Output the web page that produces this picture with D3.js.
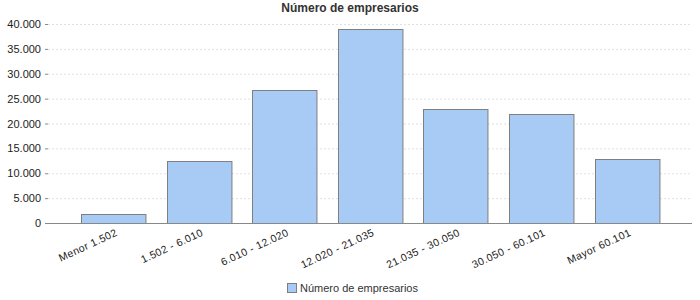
<!DOCTYPE html>
<html>
<head>
<meta charset="utf-8">
<script src="https://cdn.jsdelivr.net/npm/d3@7"></script>
<style>
body { margin: 0; background: #fff; }
svg { display: block; font-family: "Liberation Sans", Arial, sans-serif; }
</style>
</head>
<body>
<div id="chart"></div>
<script>
const categories = ["Menor 1.502", "1.502 - 6.010", "6.010 - 12.020", "12.020 - 21.035", "21.035 - 30.050", "30.050 - 60.101", "Mayor 60.101"];
const values = [1900, 12550, 26700, 38950, 22850, 21850, 12800];
const yTicks = [0, 5000, 10000, 15000, 20000, 25000, 30000, 35000, 40000];
const seriesName = "Número de empresarios";

var width = 700, height = 300,
margin = {"top": 24, "right": 8, "bottom": 77, "left": 48};

const svg = d3.select("#chart").append("svg")
.attr("width", width)
.attr("height", height);

var fmt = d => d3.format(",")(d).replace(/,/g, ".");

x = d3.scaleBand()
.domain(categories)
.range([margin.left, width - margin.right])
.paddingInner(0.247)
.paddingOuter(0.385);

y = d3.scaleLinear()
.domain([0, 40000])
.range([height - margin.bottom, margin.top]);

// title
svg.append("text")
.attr("x", 350)
.attr("y", 12)
.attr("text-anchor", "middle")
.attr("font-weight", "bold")
.attr("font-size", 12)
.attr("fill", "#333")
.text(seriesName);

// gridlines
svg.append("g")
.selectAll("line")
.data(yTicks.filter(d => d > 0))
.enter().append("line")
.attr("x1", margin.left)
.attr("x2", width - margin.right)
.attr("y1", d => y(d) + 0.5)
.attr("y2", d => y(d) + 0.5)
.attr("stroke", "#e0e0e0")
.attr("stroke-dasharray", "2,2");

// y axis
svg.append("g")
.attr("transform", `translate(${margin.left},0)`)
.call(d3.axisLeft(y).tickValues(yTicks).tickFormat(fmt).tickSize(3).tickPadding(4))
.call(g => g.select(".domain").remove())
.call(g => g.selectAll(".tick line").attr("stroke", "#888"))
.call(g => g.selectAll(".tick text").attr("font-size", 11).attr("fill", "#222").attr("font-family", "Liberation Sans, Arial, sans-serif"));

// bars
svg.append("g")
.selectAll("rect")
.data(values)
.enter().append("rect")
.attr("x", (d, i) => Math.round(x(categories[i])) + 0.5)
.attr("y", d => Math.round(y(d)) + 0.5)
.attr("width", x.bandwidth())
.attr("height", d => y(0) - Math.round(y(d)))
.attr("fill", "#a8cbf5")
.attr("stroke", "#7f7f7f")
.attr("stroke-width", 1);

// x axis line
svg.append("line")
.attr("x1", margin.left)
.attr("x2", width - margin.right)
.attr("y1", y(0) + 0.5)
.attr("y2", y(0) + 0.5)
.attr("stroke", "#888");

// x labels
svg.append("g")
.selectAll("text")
.data(categories)
.enter().append("text")
.attr("transform", d => `translate(${x(d) + x.bandwidth() / 2 + 5},${y(0) + 12}) rotate(-25)`)
.attr("text-anchor", "end")
.attr("font-size", 10.5)
.attr("letter-spacing", 0.4)
.attr("fill", "#222")
.text(d => d);

// legend
var lg = svg.append("g")
.attr("transform", "translate(287,283)");
lg.append("rect")
.attr("x", 0.5)
.attr("y", 0.5)
.attr("width", 9)
.attr("height", 9)
.attr("fill", "#a8cbf5")
.attr("stroke", "#7f7f7f");
lg.append("text")
.attr("x", 13)
.attr("y", 9)
.attr("font-size", 11)
.attr("fill", "#333")
.text(seriesName);
</script>
</body>
</html>
